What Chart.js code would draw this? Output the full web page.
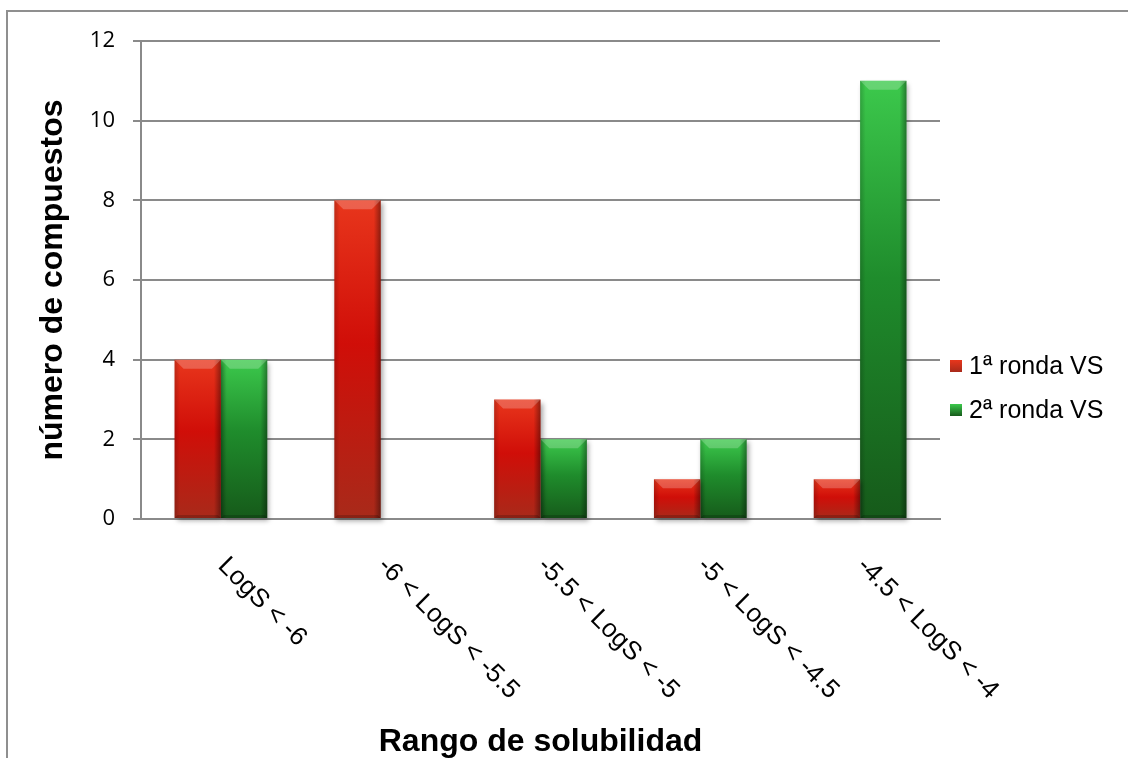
<!DOCTYPE html>
<html>
<head>
<meta charset="utf-8">
<script src="https://cdn.jsdelivr.net/npm/chart.js@4/dist/chart.umd.min.js"></script>
<style>
  body { margin: 0; background: #fff; }
</style>
</head>
<body>
<canvas id="myChart" width="1128" height="758"></canvas>
<script>
// Data

const categories = ["LogS < -6", "-6 < LogS < -5.5", "-5.5 < LogS < -5", "-5 < LogS < -4.5", "-4.5 < LogS < -4"];
const seriesNames = ["1ª ronda VS", "2ª ronda VS"];
const ronda1 = [4, 8, 3, 1, 1];
const ronda2 = [4, 0, 2, 2, 11];
const yMax = 12;
const yStep = 2;

// top / middle / bottom shades for each series
const shades = [
  ["#e8361c", "#d00e08", "#a82a1a"],
  ["#3cc94c", "#1f8c2c", "#165a1a"],
];

const gridColor = "#8a8a8a";
const labelFont = "26px 'Liberation Sans', Arial, sans-serif";

const barFill = (series) => (ctx) => {
  const chart = ctx.chart;
  const y = chart.scales.y;
  if (!chart.chartArea || !y) return shades[series][1];
  const top = y.getPixelForValue(ctx.raw);
  const base = y.getPixelForValue(0);
  if (base - top < 1) return shades[series][1];
  const g = chart.ctx.createLinearGradient(0, top, 0, base);
  g.addColorStop(0, shades[series][0]);
  g.addColorStop(0.45, shades[series][1]);
  g.addColorStop(1, shades[series][2]);
  return g;
};

// Frame, shadows, bevels, rotated category labels and legend

const decorations = {
  id: "decorations",
  beforeDraw(chart) {
    const ctx = chart.ctx;
    ctx.save();
    ctx.fillStyle = "#fff";
    ctx.fillRect(0, 0, chart.width, chart.height);
    ctx.strokeStyle = "#8f8f8f";
    ctx.lineWidth = 2;
    ctx.strokeRect(7, 11, chart.width + 50, chart.height + 50);
    ctx.restore();
  },
  beforeDatasetsDraw(chart) {
    const ctx = chart.ctx;
    ctx.save();
    ctx.shadowColor = "rgba(0,0,0,0.35)";
    ctx.shadowBlur = 5;
    ctx.shadowOffsetX = 2;
    ctx.shadowOffsetY = 3;
  },
  afterDatasetsDraw(chart) {
    const ctx = chart.ctx;
    ctx.restore();
    ctx.save();
    chart.data.datasets.forEach((ds, i) => {
      chart.getDatasetMeta(i).data.forEach((bar) => {
        const h = bar.base - bar.y;
        if (h < 1) return;
        const left = bar.x - bar.width / 2;
        const right = bar.x + bar.width / 2;
        const side = ctx.createLinearGradient(left, 0, right, 0);
        side.addColorStop(0, "rgba(0,0,0,0.18)");
        side.addColorStop(0.12, "rgba(0,0,0,0)");
        side.addColorStop(0.85, "rgba(0,0,0,0)");
        side.addColorStop(1, "rgba(0,0,0,0.38)");
        ctx.fillStyle = side;
        ctx.fillRect(left, bar.y, bar.width, h);
        const b = Math.min(9, h / 2);
        ctx.fillStyle = "rgba(255,255,255,0.22)";
        ctx.beginPath();
        ctx.moveTo(left, bar.y);
        ctx.lineTo(right, bar.y);
        ctx.lineTo(right - b, bar.y + b);
        ctx.lineTo(left + b, bar.y + b);
        ctx.closePath();
        ctx.fill();
        ctx.fillStyle = "rgba(0,0,0,0.18)";
        ctx.beginPath();
        ctx.moveTo(left, bar.base);
        ctx.lineTo(right, bar.base);
        ctx.lineTo(right - 3, bar.base - 3);
        ctx.lineTo(left + 3, bar.base - 3);
        ctx.closePath();
        ctx.fill();
      });
    });
    ctx.restore();
  },
  afterDraw(chart) {
    const ctx = chart.ctx;
    const x = chart.scales.x;
    const bottom = chart.chartArea.bottom;
    ctx.save();
    ctx.fillStyle = "#000";
    ctx.font = labelFont;
    ctx.textAlign = "left";
    ctx.textBaseline = "alphabetic";
    categories.forEach((label, i) => {
      ctx.save();
      ctx.translate(x.getPixelForValue(i) - 4, bottom + 48);
      ctx.rotate(Math.PI / 4);
      ctx.fillText(label, 0, 0);
      ctx.restore();
    });

    // legend
    const rows = [366, 410];
    ctx.font = "25px 'Liberation Sans', Arial, sans-serif";
    ctx.textBaseline = "middle";
    seriesNames.forEach((name, i) => {
      const y = rows[i];
      const g = ctx.createLinearGradient(0, y - 6, 0, y + 6);
      g.addColorStop(0, shades[i][0]);
      g.addColorStop(1, shades[i][2]);
      ctx.fillStyle = g;
      ctx.fillRect(950, y - 6, 12, 12);
      ctx.fillStyle = "#000";
      ctx.fillText(name, 969, y + 1);
    });
    ctx.restore();
  },
};

const titleFont = { family: "'Liberation Sans', Arial, sans-serif", size: 32, weight: "bold", lineHeight: 1 };

const config = {
  type: "bar",
  data: {
    labels: categories,
    datasets: [
      {
        label: seriesNames[0],
        data: ronda1,
        backgroundColor: barFill(0),
        borderWidth: 0,
        clip: false,
      },
      {
        label: seriesNames[1],
        data: ronda2,
        backgroundColor: barFill(1),
        borderWidth: 0,
        clip: false,
      },
    ],
  },
  options: {
    responsive: false,
    animation: false,
    layout: { padding: { left: 37, top: 41, right: 188, bottom: 0 } },
    datasets: { bar: { barPercentage: 1, categoryPercentage: 0.58 } },
    plugins: { legend: { display: false }, tooltip: { enabled: false } },
    scales: {
      x: {
        grid: { display: false },
        border: { display: true, color: gridColor, width: 2 },
        ticks: { display: false },
        afterFit: (scale) => { scale.height = 239; },
        title: {
          display: true,
          text: "Rango de solubilidad",
          color: "#000",
          font: titleFont,
          padding: { top: 0, bottom: 0 },
        },
      },
      y: {
        min: 0,
        max: yMax,
        grid: { color: gridColor, lineWidth: 2, tickLength: 8, drawTicks: true },
        border: { display: true, color: gridColor, width: 2 },
        ticks: {
          stepSize: yStep,
          padding: 18,
          color: "#000",
          font: { family: "'Open Sans', sans-serif", size: 22 },
        },
        afterFit: (scale) => { scale.width = 104; },
        title: {
          display: true,
          text: "número de compuestos",
          color: "#000",
          font: titleFont,
          padding: { top: 0, bottom: 0 },
        },
      },
    },
  },
  plugins: [decorations],
};

const myChart = new Chart(document.getElementById("myChart"), config);
</script>
</body>
</html>
